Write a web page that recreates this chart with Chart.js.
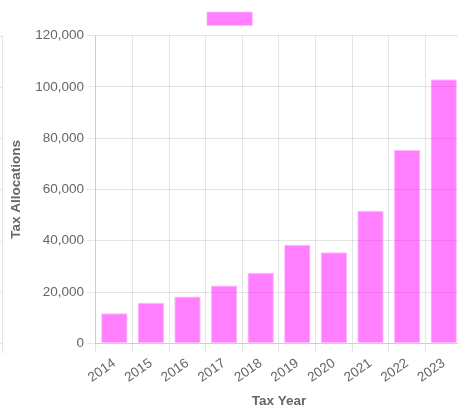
<!DOCTYPE html>
<html>
<head>
<meta charset="utf-8">
<script src="https://cdn.jsdelivr.net/npm/chart.js@4"></script>
<style>
  html, body { margin: 0; padding: 0; background: #fff; overflow: hidden; }
  #wrap { position: relative; width: 466px; height: 416px; }
</style>
</head>
<body>
<div id="wrap"><canvas id="allocChart"></canvas></div>
<script>
const taxYears = ['2014', '2015', '2016', '2017', '2018', '2019', '2020', '2021', '2022', '2023'];
const allocations = [11700, 15800, 18200, 22500, 27500, 38400, 35500, 51700, 75400, 102900];

// faint edge rule on the far left, with stubs at each y tick
const edgeRule = {
  id: 'edgeRule',
  afterDraw(chart) {
    const { ctx, scales: { y } } = chart;
    ctx.save();
    ctx.strokeStyle = 'rgba(0,0,0,0.1)';
    ctx.lineWidth = 1;
    ctx.beginPath();
    ctx.moveTo(2.5, y.top);
    ctx.lineTo(2.5, y.bottom + 10);
    y.ticks.forEach((t, i) => {
      const py = Math.round(y.getPixelForTick(i)) + 0.5;
      ctx.moveTo(0, py);
      ctx.lineTo(2.5, py);
    });
    ctx.stroke();
    ctx.restore();
  }
};

Chart.defaults.font.family = '"Liberation Sans", Arial, Helvetica, sans-serif';
Chart.defaults.font.size = 13.5;
Chart.defaults.color = '#666';

new Chart(document.getElementById('allocChart'), {
  type: 'bar',
  data: {
    labels: taxYears,
    datasets: [{
      label: '',
      data: allocations,
      backgroundColor: 'rgba(255, 0, 255, 0.5)',
      borderColor: 'rgba(255, 140, 255, 0.6)',
      borderWidth: 1
    }]
  },
  options: {
    responsive: true,
    maintainAspectRatio: false,
    animation: false,
    layout: { padding: { left: 4, right: 4, bottom: 3 } },
    plugins: {
      legend: {
        labels: { boxWidth: 45, boxHeight: 13, padding: 12 }
      },
      tooltip: { enabled: false }
    },
    scales: {
      x: {
        grid: { color: 'rgba(0,0,0,0.1)', tickLength: 9 },
        ticks: { minRotation: 35, maxRotation: 35 },
        title: { display: true, text: 'Tax Year', font: { weight: 'bold', size: 13.5 } }
      },
      y: {
        beginAtZero: true,
        max: 120000,
        grid: { color: 'rgba(0,0,0,0.1)', tickLength: 9 },
        ticks: { stepSize: 20000 },
        title: {
          display: true,
          text: 'Tax Allocations',
          padding: { top: 4, bottom: 8 },
          font: { weight: 'bold', size: 13.5 }
        }
      }
    }
  },
  plugins: [edgeRule]
});
</script>
</body>
</html>
